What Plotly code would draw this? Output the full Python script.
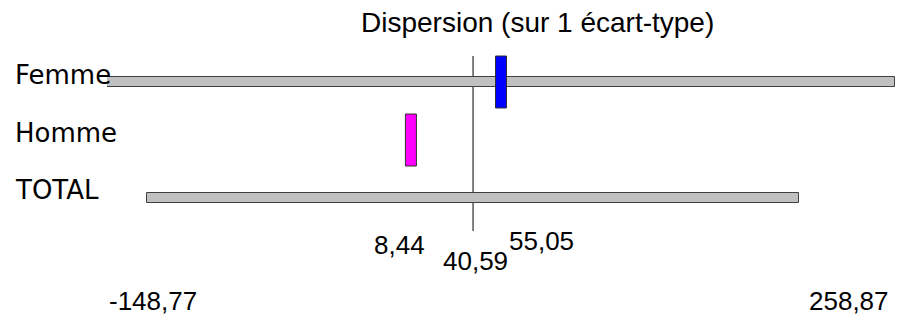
import plotly.graph_objects as go

categories = ["Femme", "Homme", "TOTAL"]
means = [55.05, 8.44, 40.59]
stds = [203.82, None, 168.5]
marker_colors = ["#0000FF", "#FF00FF", None]
axis_min = -148.77
axis_max = 258.87
total_mean = 40.59
title_text = "Dispersion (sur 1 écart-type)"

W, H = 898, 318
L, R = 107, 3
ROW0, ROWSTEP = 82.0, 58.0


def fmt(v):
    return f"{v:.2f}".replace(".", ",")


def py(p):  # pixel y -> paper y
    return 1 - p / H


fig = go.Figure()

# gray dispersion bars (mean ± 1 std)
bar_y, bar_base, bar_len = [], [], []
for i, (m, s) in enumerate(zip(means, stds)):
    if s is None:
        continue
    bar_y.append(i)
    bar_base.append(m - s)
    bar_len.append(2 * s)

fig.add_trace(go.Bar(
    y=bar_y, x=bar_len, base=bar_base, orientation="h",
    width=10 / ROWSTEP,
    marker=dict(color="#C0C0C0", line=dict(color="#404040", width=1)),
    hoverinfo="skip", showlegend=False,
))

shapes = []
# mean markers
for i, (m, c) in enumerate(zip(means, marker_colors)):
    if c is None:
        continue
    shapes.append(dict(
        type="rect", xref="x", yref="y",
        xsizemode="pixel", xanchor=m, x0=-5.5, x1=5.5,
        ysizemode="pixel", yanchor=i, y0=-26, y1=26,
        fillcolor=c, line=dict(color="#303030", width=1), layer="above",
    ))

# vertical line at the total mean
shapes.append(dict(
    type="line", xref="x", yref="y",
    x0=total_mean, x1=total_mean,
    y0=(56 - ROW0) / ROWSTEP, y1=(231 - ROW0) / ROWSTEP,
    line=dict(color="#000000", width=1), layer="below",
))

annotations = []
label_font = dict(family="DejaVu Sans, Verdana", size=26, color="#000000")
num_font = dict(family="Liberation Sans, Arial", size=26, color="#000000")

# row labels
label_y = [75, 133, 190]
for name, yy in zip(categories, label_y):
    annotations.append(dict(
        text=name, xref="paper", yref="paper",
        x=(13 - L) / (W - L - R), y=py(yy),
        xanchor="left", yanchor="middle", showarrow=False, font=label_font,
    ))

# mean value labels
mean_label_pos = {0: (541, 241), 1: (399, 245), 2: (475, 261)}
for i, m in enumerate(means):
    px_, pyy = mean_label_pos[i]
    annotations.append(dict(
        text=fmt(m), xref="x", yref="paper", x=m, y=py(pyy),
        xshift=px_ - (L + (m - axis_min) / (axis_max - axis_min) * (W - L - R)),
        xanchor="center", yanchor="middle", showarrow=False, font=num_font,
    ))

# axis extremes
annotations.append(dict(
    text=fmt(axis_min), xref="x", yref="paper", x=axis_min, y=py(301),
    xanchor="left", yanchor="middle", showarrow=False, font=num_font,
))
annotations.append(dict(
    text=fmt(axis_max), xref="x", yref="paper", x=axis_max, y=py(301),
    xshift=-4, xanchor="right", yanchor="middle", showarrow=False, font=num_font,
))

# title
annotations.append(dict(
    text=title_text, xref="paper", yref="paper",
    x=(537 - L) / (W - L - R), y=py(23),
    xanchor="center", yanchor="middle", showarrow=False,
    font=dict(family="Liberation Sans, Arial", size=28, color="#000000"),
))

fig.update_layout(
    width=W, height=H,
    margin=dict(l=L, r=R, t=0, b=0),
    paper_bgcolor="white", plot_bgcolor="white",
    xaxis=dict(range=[axis_min, axis_max], visible=False, fixedrange=True),
    yaxis=dict(range=[(H - ROW0) / ROWSTEP, -ROW0 / ROWSTEP], visible=False, fixedrange=True),
    shapes=shapes, annotations=annotations,
    bargap=0,
)

fig.write_html(
    "out.html",
    config={"displayModeBar": False},
    post_script="document.body.style.margin='0';document.body.style.overflow='hidden';",
)
